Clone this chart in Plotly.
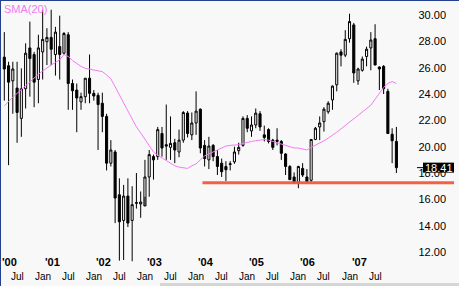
import numpy as np
import pandas as pd
import plotly.graph_objects as go

# ---------------- data (monthly, Apr 2000 - Dec 2007) ----------------
months = pd.date_range("2000-04-01", "2007-12-01", freq="MS")

open_ = [26.8, 26.15, 25.0, 24.45, 22.15, 24.4, 27.5, 27.0, 25.1, 27.2,
         27.97, 28.3, 27.0, 27.6, 27.1, 28.5, 24.8, 24.3, 23.4, 23.8,
         25.2, 24.05, 23.9, 23.3, 22.3, 18.75, 19.6, 16.35, 14.4, 16.25,
         14.4, 15.7, 15.65, 15.5, 17.7, 19.25, 19.25, 21.0, 20.15, 19.95,
         20.3, 19.6, 20.5, 22.55, 20.9, 21.8, 22.85, 20.1, 19.0, 20.1,
         19.25, 18.75, 18.5, 18.65, 18.85, 19.7, 20.1, 22.15, 21.2, 21.65,
         22.5, 20.9, 21.3, 20.5, 20.5, 20.4, 19.45, 18.5, 17.7, 17.25,
         18.35, 17.7, 17.45, 20.55, 21.5, 21.9, 22.65, 23.55, 24.7, 27.2,
         26.95, 28.2, 29.25, 25.0, 25.8, 26.85, 27.5, 28.2, 26.05, 26.1,
         24.2, 20.95, 20.4]
high = [28.7, 26.45, 26.45, 26.45, 25.95, 27.85, 29.5, 27.2, 28.5, 30.4,
        29.0, 30.4, 29.1, 29.95, 28.7, 28.7, 25.1, 24.8, 24.1, 25.2,
        27.0, 24.3, 24.1, 24.1, 22.5, 20.5, 19.75, 17.6, 17.1, 17.6,
        17.0, 18.0, 16.6, 19.0, 19.75, 19.4, 21.5, 21.5, 23.2, 22.3,
        20.6, 21.3, 22.7, 22.7, 22.6, 24.2, 22.9, 20.5, 20.75, 20.2,
        19.75, 19.1, 18.9, 18.9, 20.0, 20.3, 22.3, 22.4, 22.3, 22.9,
        22.7, 21.6, 21.4, 20.6, 21.4, 20.5, 19.5, 18.6, 18.05, 18.55,
        18.75, 18.3, 20.55, 21.5, 22.3, 23.0, 23.45, 24.65, 27.15, 27.4,
        28.85, 30.1, 29.4, 26.0, 26.85, 27.6, 28.7, 29.3, 26.1, 26.2,
        24.4, 21.4, 21.5]
low = [23.5, 18.6, 22.5, 20.3, 20.75, 22.9, 23.8, 23.0, 23.3, 25.1,
       26.2, 26.2, 25.4, 25.1, 27.0, 22.8, 22.8, 21.1, 22.8, 23.3,
       23.3, 23.5, 19.75, 21.1, 18.2, 18.5, 14.2, 11.35, 11.4, 13.9,
       11.3, 15.3, 14.6, 16.2, 16.2, 17.5, 19.0, 19.25, 19.0, 19.0,
       18.75, 19.2, 20.3, 20.7, 20.5, 20.9, 19.5, 18.5, 18.3, 18.9,
       17.85, 17.7, 17.4, 18.2, 18.7, 19.4, 20.0, 21.1, 20.75, 21.4,
       21.2, 20.4, 20.25, 19.75, 20.1, 19.0, 17.85, 17.5, 17.2, 16.85,
       17.7, 17.3, 17.3, 20.5, 20.5, 21.15, 22.5, 22.8, 24.2, 26.1,
       26.8, 27.9, 24.85, 24.7, 25.7, 26.1, 25.8, 26.2, 24.3, 24.0,
       21.0, 18.75, 18.0]
close = [25.9, 24.9, 25.9, 22.6, 24.4, 27.1, 26.7, 24.9, 27.5, 28.15,
         28.3, 27.4, 28.7, 27.0, 28.6, 24.8, 24.25, 23.7, 23.8, 25.2,
         24.05, 23.85, 23.2, 22.3, 18.75, 19.75, 16.1, 14.3, 16.25, 14.2,
         15.6, 15.75, 15.8, 17.7, 19.4, 19.0, 21.3, 19.9, 20.05, 20.25,
         19.75, 20.5, 22.6, 21.0, 21.8, 22.7, 19.9, 19.1, 20.05, 19.25,
         18.5, 18.1, 18.25, 18.7, 19.6, 19.95, 22.15, 21.4, 21.65, 22.55,
         21.5, 20.7, 20.4, 19.95, 20.4, 19.5, 18.5, 17.5, 17.3, 18.5,
         17.85, 17.35, 20.55, 21.4, 21.8, 22.85, 23.3, 24.6, 27.1, 26.95,
         28.15, 29.5, 25.6, 25.9, 26.65, 27.4, 28.1, 26.2, 25.9, 24.4,
         21.0, 20.45, 18.41]
sma20 = [23.1, 23.45, 23.75, 24.05, 24.35, 24.65, 24.9, 25.25, 25.5, 25.75,
         26.0, 26.2, 26.4, 26.6, 27.0, 26.85, 26.55, 26.3, 26.1, 25.95,
         25.9, 25.85, 25.8, 25.7, 25.45, 25.15, 24.55, 23.95, 23.25, 22.7,
         22.1, 21.5, 21.05, 20.55, 20.0, 19.6, 19.35, 19.15, 18.95, 18.7,
         18.55, 18.45, 18.4, 18.35, 18.55, 18.7, 19.0, 19.3, 19.45, 19.6,
         19.8, 19.95, 20.05, 20.1, 20.1, 20.15, 20.25, 20.35, 20.4, 20.45,
         20.5, 20.55, 20.5, 20.4, 20.3, 20.2, 20.05, 20.0, 19.9, 19.9,
         19.8, 19.75, 19.95, 20.1, 20.3, 20.45, 20.65, 20.85, 21.1, 21.35,
         21.6, 21.85, 22.15, 22.4, 22.6, 22.9, 23.15, 23.6, 24.1, 24.5,
         24.8, 24.95, 24.8]

support_level = 17.27
support_start = "2004-03"
y_tick_values = [12, 14, 16, 18, 20, 22, 24, 26, 28, 30]
month_names = {1: "Jan", 7: "Jul"}
year_labels = ["'00", "'01", "'02", "'03", "'04", "'05", "'06", "'07"]
last_price_label = "18.41"

# ---------------- layout geometry ----------------
W, H = 459, 286
BG = "#f8f8f8"
px_per_month = 4.262
first_px = 4.3
x = np.arange(len(months))
x_left = -first_px / px_per_month
x_right = (W - first_px) / px_per_month
def x_at_px(p):
    return (p - first_px) / px_per_month
y_top = 30 + 15 / 13.17
y_bot = 30 - (H - 15) / 13.17

fig = go.Figure()
fig.add_trace(go.Candlestick(
    x=x, open=open_, high=high, low=low, close=close,
    increasing=dict(line=dict(color="black", width=1), fillcolor=BG),
    decreasing=dict(line=dict(color="black", width=1), fillcolor="black"),
    whiskerwidth=0, hoverinfo="skip", showlegend=False))
fig.add_trace(go.Scatter(x=x, y=sma20, mode="lines",
                         line=dict(color="#f47cf4", width=1),
                         hoverinfo="skip", showlegend=False))

annotations = []
# month labels and year labels
for i, d in enumerate(months):
    if d.month in month_names:
        annotations.append(dict(x=i, y=(H - 276) / H, xref="x", yref="paper",
                                text=month_names[d.month], showarrow=False,
                                xanchor="center", yanchor="middle",
                                font=dict(family="Liberation Sans", size=10, color="black")))
for lab in year_labels:
    yr = 2000 + int(lab[1:])
    jan = pd.Timestamp(f"{yr}-01-01")
    idx = (jan.year - months[0].year) * 12 + (jan.month - months[0].month)
    xpos = max(idx, x_left)
    annotations.append(dict(x=xpos, y=(H - 262) / H, xref="x", yref="paper",
                            text=lab, showarrow=False, xanchor="left", yanchor="middle",
                            font=dict(family="Liberation Sans", size=11, color="black"),
                            ))
annotations.append(dict(x=2 / W, y=1 - 1 / H, xref="paper", yref="paper",
                        text="SMA(20)", showarrow=False, xanchor="left", yanchor="top",
                        font=dict(family="Liberation Sans", size=11, color="#f07cf0")))
annotations.append(dict(x=438.5 / W, y=close[-1], xref="paper", yref="y",
                        text=last_price_label, showarrow=False, xanchor="center",
                        yanchor="middle",
                        font=dict(family="Liberation Sans", size=11, color="white")))
for a in annotations:
    if a["text"].startswith("'"):
        a["text"] = "<b>" + a["text"] + "</b>"

sup_idx = list(months.strftime("%Y-%m")).index(support_start)
shapes = [
    dict(type="line", xref="x", yref="y", x0=sup_idx - 0.5, x1=x_at_px(454),
         y0=support_level, y1=support_level,
         line=dict(color="rgba(242,88,58,0.95)", width=3), layer="above"),
    dict(type="line", xref="paper", yref="y", x0=417 / W, x1=423 / W,
         y0=close[-1], y1=close[-1], line=dict(color="black", width=1)),
    dict(type="rect", xref="paper", yref="y", x0=423 / W, x1=454 / W,
         y0=close[-1] - 0.38, y1=close[-1] + 0.38,
         fillcolor="black", line=dict(width=0)),
    dict(type="line", xref="paper", yref="paper", x0=0, x1=1, y0=1, y1=1,
         line=dict(color="#23408f", width=2)),
    dict(type="line", xref="paper", yref="paper", x0=0, x1=0, y0=0, y1=1,
         line=dict(color="#23408f", width=2)),
    dict(type="rect", xref="paper", yref="paper", x0=160 / W, x1=1, y0=0, y1=3 / H,
         fillcolor="#d6d6d6", line=dict(width=0)),
]

fig.update_layout(
    width=W, height=H, margin=dict(l=0, r=0, t=0, b=0),
    paper_bgcolor=BG, plot_bgcolor=BG,
    xaxis=dict(range=[x_left, x_right], showgrid=False, zeroline=False,
               showticklabels=False, ticks="", rangeslider=dict(visible=False),
               fixedrange=True),
    yaxis=dict(range=[y_bot, y_top], side="right", showgrid=False, zeroline=False,
               tickvals=y_tick_values, ticktext=[f"{v:.2f}" for v in y_tick_values],
               ticklabelposition="inside", ticklabelstandoff=10, ticks="",
               tickfont=dict(family="Liberation Sans", size=11, color="black"),
               fixedrange=True),
    annotations=annotations, shapes=shapes, showlegend=False,
)
fig.write_html("out.html")
